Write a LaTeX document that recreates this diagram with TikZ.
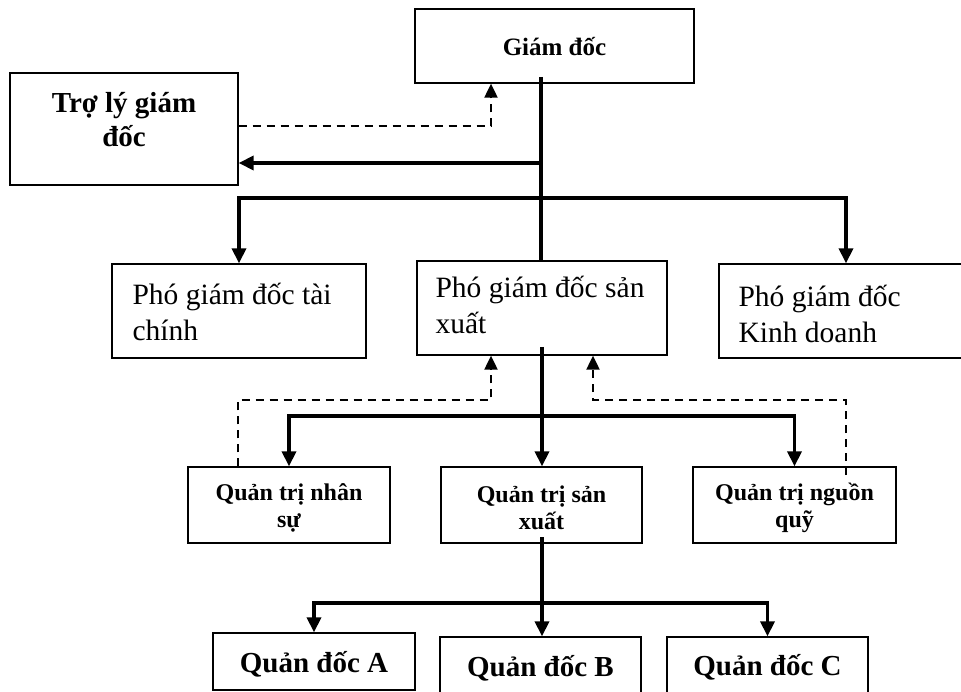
\documentclass[tikz,border=0pt]{standalone}
\usepackage{fontspec}
\setmainfont{Liberation Serif}
\usetikzlibrary{arrows.meta}
\begin{document}
\begin{tikzpicture}[x=1pt,y=-1pt,
  box/.style={draw, line width=1.3pt, inner sep=0pt},
  label/.style={inner sep=0pt, align=center},
  gdtext/.style={label, font=\bfseries\fontsize{25}{30}\selectfont},
  tltext/.style={label, font=\bfseries\fontsize{29}{34}\selectfont},
  pgdtext/.style={label, align=left, anchor=west, font=\fontsize{29.5}{36}\selectfont},
  qttext/.style={label, font=\bfseries\fontsize{24}{27}\selectfont},
  qdtext/.style={label, font=\bfseries\fontsize{29}{34}\selectfont},
  link/.style={line width=3.5pt},
  arr/.style={link, -{Triangle[length=15pt,width=14pt]}},
  arrs/.style={link, {Triangle[length=15pt,width=14pt]}-{Triangle[length=15pt,width=14pt]}},
  dlink/.style={line width=2pt, dash pattern=on 8pt off 6pt},
  darr/.style={dlink, -{Triangle[length=14pt,width=13pt]}}
]
\clip (0,0) rectangle (961,692);

% boxes
\node[box, minimum width=279, minimum height=74]  (gd)  at (554.5,46) {};
\node[box, minimum width=228, minimum height=112] (tl)  at (124,129) {};
\node[box, minimum width=254, minimum height=94]  (ptc) at (239,311) {};
\node[box, minimum width=250, minimum height=94]  (psx) at (542,308) {};
\node[box, minimum width=254, minimum height=94]  (pkd) at (846,311) {};
\node[box, minimum width=202, minimum height=76]  (qns) at (289,505) {};
\node[box, minimum width=201, minimum height=76]  (qsx) at (541.5,505) {};
\node[box, minimum width=203, minimum height=76]  (qnq) at (794.5,505) {};
\node[box, minimum width=202, minimum height=57]  (qa)  at (314,661.5) {};
\node[box, minimum width=201, minimum height=63]  (qb)  at (540.5,668.5) {};
\node[box, minimum width=201, minimum height=63]  (qc)  at (767.5,668.5) {};

% box texts
\node[gdtext] (gdt) at ([yshift=-1pt]gd.center) {Giám đốc};
\node[tltext] (tlt) at ([yshift=9pt]tl.center) {Trợ lý giám\\đốc};
\node[pgdtext] (ptct) at ([xshift=21pt,yshift=-1pt]ptc.west) {Phó giám đốc tài\\chính};
\node[pgdtext] (psxt) at ([xshift=19pt,yshift=3pt]psx.west) {Phó giám đốc sản\\xuất};
\node[pgdtext] (pkdt) at ([xshift=20pt,yshift=-3pt]pkd.west) {Phó giám đốc\\Kinh doanh};
\node[qttext] (qnst) at ([yshift=-2.5pt]qns.center) {Quản trị nhân\\sự};
\node[qttext] (qsxt) at ([yshift=-2.5pt]qsx.center) {Quản trị sản\\xuất};
\node[qttext] (qnqt) at ([yshift=-2.5pt]qnq.center) {Quản trị nguồn\\quỹ};
\node[qdtext] (qat) at ([yshift=-3pt]qa.center) {Quản đốc A};
\node[qdtext] (qbt) at ([yshift=0pt]qb.center) {Quản đốc B};
\node[qdtext] (qct) at ([yshift=1pt]qc.center) {Quản đốc C};

% junction points
\coordinate (gdfoot) at (541,77);
\coordinate (j1) at (541,163);
\coordinate (b1) at (0,198);
\coordinate (d1) at (491,126);
\coordinate (psxfoot) at (542,347);
\coordinate (b2) at (0,416);
\coordinate (d2) at (238,400);
\coordinate (d3) at (491,400);
\coordinate (d4) at (846,400);
\coordinate (d5) at (593,400);
\coordinate (d6) at (846,475);
\coordinate (qsxfoot) at (542,537);
\coordinate (b3) at (0,603);

% solid connectors
\draw[link] (gdfoot) -- (gdfoot |- psx.north);
\draw[arr] (j1) -- (j1 -| tl.east);
\draw[arrs] (ptc.north) -- (ptc.north |- b1) -- (pkd.north |- b1) -- (pkd.north);
\draw[arr] (psxfoot) -- (psxfoot |- qsx.north);
\draw[arrs] (qns.north) -- (qns.north |- b2) -- (qnq.north |- b2) -- (qnq.north);
\draw[arr] (qsxfoot) -- (qsxfoot |- qb.north);
\draw[arrs] (qa.north) -- (qa.north |- b3) -- (qc.north |- b3) -- (qc.north);

% dashed feedback connectors
\draw[darr] (d1 -| tl.east) -- (d1) -- (d1 |- gd.south);
\draw[darr] (d2 |- qns.north) -- (d2) -- (d3) -- (d3 |- psx.south);
\draw[darr] (d6) -- (d4) -- (d5) -- (d5 |- psx.south);
\end{tikzpicture}
\end{document}
